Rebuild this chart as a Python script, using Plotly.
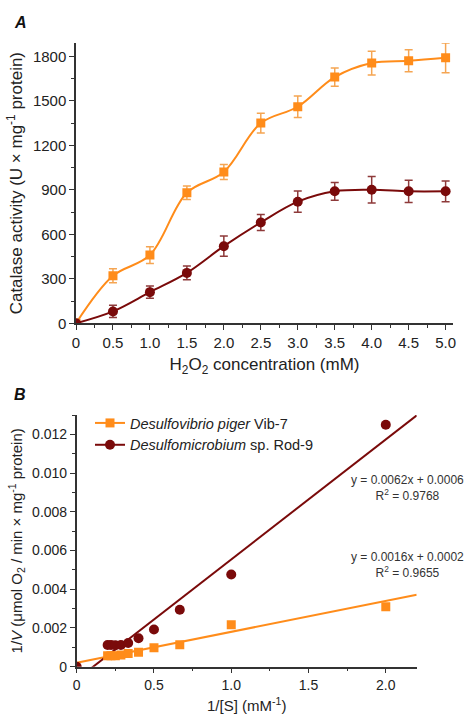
import plotly.graph_objects as go

# ---------- Panel A data ----------
conc = [0, 0.5, 1.0, 1.5, 2.0, 2.5, 3.0, 3.5, 4.0, 4.5, 5.0]
piger_act = [0, 320, 460, 880, 1020, 1350, 1460, 1660, 1755, 1770, 1790]
piger_err = [0, 47, 56, 45, 50, 67, 72, 62, 80, 74, 100]
rod_act = [0, 80, 210, 340, 520, 680, 820, 890, 900, 890, 890]
rod_err = [0, 41, 41, 47, 68, 54, 72, 60, 89, 75, 70]

# ---------- Panel B data ----------
inv_s = [0.2, 0.222, 0.25, 0.286, 0.333, 0.4, 0.5, 0.667, 1.0, 2.0]
piger_inv_v = [0.00056, 0.000565, 0.00057, 0.0006, 0.00068, 0.00074, 0.00098, 0.00114, 0.00217, 0.0031]
rod_inv_s = [0, 0.2, 0.222, 0.25, 0.286, 0.333, 0.4, 0.5, 0.667, 1.0, 2.0]
rod_inv_v = [0, 0.00112, 0.00112, 0.00111, 0.00112, 0.00122, 0.00147, 0.00192, 0.00294, 0.00476, 0.0125]

fit_x = [0, 2.2]
piger_fit = (0.0016, 0.0002)
rod_fit = (0.0062, -0.00066)

ORANGE = "#FF8C1A"
DARKRED = "#7A0A0A"
FONT = "Liberation Sans, Arial, sans-serif"
TXT = "#222222"

fig = go.Figure()

# Panel A
fig.add_trace(go.Scatter(
    x=conc, y=piger_act, mode="lines+markers",
    line=dict(color=ORANGE, width=2, shape="spline"),
    marker=dict(symbol="square", size=9, color=ORANGE),
    error_y=dict(type="data", array=piger_err, color="#F5A552", thickness=1.5, width=4),
    name="<i>Desulfovibrio piger</i> Vib-7", xaxis="x", yaxis="y", legendrank=1))
fig.add_trace(go.Scatter(
    x=conc, y=rod_act, mode="lines+markers",
    line=dict(color=DARKRED, width=2, shape="spline"),
    marker=dict(symbol="circle", size=10, color=DARKRED),
    error_y=dict(type="data", array=rod_err, color="#8E3A3A", thickness=1.5, width=4),
    name="<i>Desulfomicrobium</i> sp. Rod-9", xaxis="x", yaxis="y", legendrank=2))

# Panel B
fig.add_trace(go.Scatter(
    x=fit_x, y=[piger_fit[0] * v + piger_fit[1] for v in fit_x], mode="lines",
    line=dict(color=ORANGE, width=2), showlegend=False, xaxis="x2", yaxis="y2"))
fig.add_trace(go.Scatter(
    x=fit_x, y=[rod_fit[0] * v + rod_fit[1] for v in fit_x], mode="lines",
    line=dict(color=DARKRED, width=2), showlegend=False, xaxis="x2", yaxis="y2"))
fig.add_trace(go.Scatter(
    x=inv_s, y=piger_inv_v, mode="markers",
    marker=dict(symbol="square", size=9, color=ORANGE),
    showlegend=False, xaxis="x2", yaxis="y2"))
fig.add_trace(go.Scatter(
    x=rod_inv_s, y=rod_inv_v, mode="markers",
    marker=dict(symbol="circle", size=10, color=DARKRED),
    showlegend=False, xaxis="x2", yaxis="y2"))

W, H = 465, 714
def px(x):
    return x / W
def py(y):
    return 1 - y / H

def axis(size):
    return dict(
        showline=True, linecolor="#333333", linewidth=1.5, ticks="outside",
        ticklen=5, tickwidth=1.2, tickcolor="#333333", showgrid=False, zeroline=False,
        automargin=False,
        tickfont=dict(family=FONT, size=size, color=TXT),
    )

fig.update_layout(
    width=W, height=H,
    margin=dict(l=0, r=0, t=0, b=0, autoexpand=False),
    paper_bgcolor="white", plot_bgcolor="white",
    font=dict(family=FONT, color=TXT),
    xaxis=dict(axis(15), domain=[px(76), px(453)], range=[0, 5.1], anchor="y",
               tickvals=[0, 0.5, 1.0, 1.5, 2.0, 2.5, 3.0, 3.5, 4.0, 4.5, 5.0],
               ticktext=["0", "0.5", "1.0", "1.5", "2.0", "2.5", "3.0", "3.5", "4.0", "4.5", "5.0"],
               minor=dict(ticks="outside", ticklen=3, tickcolor="#333333", dtick=0.25, tick0=0),
               title=dict(text="H<sub>2</sub>O<sub>2</sub> concentration (mM)",
                          font=dict(family=FONT, size=17, color=TXT), standoff=8)),
    yaxis=dict(axis(15), domain=[py(323.3), py(43)], range=[0, 1890], anchor="x",
               tickvals=[0, 300, 600, 900, 1200, 1500, 1800],
               minor=dict(ticks="outside", ticklen=3, tickcolor="#333333", dtick=150, tick0=0),
               title=dict(text="Catalase activity (U × mg<sup>-1</sup> protein)",
                          font=dict(family=FONT, size=17, color=TXT), standoff=6)),
    xaxis2=dict(axis(14), domain=[px(76.7), px(416.7)], range=[0, 2.2], anchor="y2",
                tickvals=[0, 0.5, 1.0, 1.5, 2.0], ticktext=["0", "0.5", "1.0", "1.5", "2.0"],
                minor=dict(ticks="outside", ticklen=3, tickcolor="#333333", dtick=0.25, tick0=0),
                title=dict(text="1/[S] (mM<sup>-1</sup>)",
                           font=dict(family=FONT, size=15, color=TXT), standoff=10)),
    yaxis2=dict(axis(14), domain=[py(666.7), py(415)], range=[0, 0.013], anchor="x2",
                tickvals=[0, 0.002, 0.004, 0.006, 0.008, 0.010, 0.012],
                ticktext=["0", "0.002", "0.004", "0.006", "0.008", "0.010", "0.012"],
                minor=dict(ticks="outside", ticklen=3, tickcolor="#333333", dtick=0.001, tick0=0),
                title=dict(text="1/<i>V</i> (μmol O<sub>2</sub> / min × mg<sup>-1</sup> protein)",
                           font=dict(family=FONT, size=15, color=TXT), standoff=6)),
    legend=dict(x=px(90), y=py(407), xanchor="left", yanchor="top",
                bgcolor="rgba(0,0,0,0)", font=dict(family=FONT, size=14.5, color=TXT),
                tracegroupgap=0, itemwidth=30),
    annotations=[
        dict(text="<b><i>A</i></b>", x=px(12), y=py(22), xref="paper", yref="paper",
             xanchor="left", yanchor="middle", showarrow=False,
             font=dict(family=FONT, size=16, color="#111111")),
        dict(text="<b><i>B</i></b>", x=px(12), y=py(394), xref="paper", yref="paper",
             xanchor="left", yanchor="middle", showarrow=False,
             font=dict(family=FONT, size=16, color="#111111")),
        dict(text="y = 0.0062x + 0.0006<br>R<sup>2</sup> = 0.9768", x=px(407), y=py(488),
             xref="paper", yref="paper", xanchor="center", yanchor="middle", showarrow=False,
             align="center", font=dict(family=FONT, size=12, color="#333333")),
        dict(text="y = 0.0016x + 0.0002<br>R<sup>2</sup> = 0.9655", x=px(407), y=py(565),
             xref="paper", yref="paper", xanchor="center", yanchor="middle", showarrow=False,
             align="center", font=dict(family=FONT, size=12, color="#333333")),
    ],
)

fig.write_html("out.html", config={"displayModeBar": False},
               post_script="document.body.style.margin='0';document.body.style.overflow='hidden';")
